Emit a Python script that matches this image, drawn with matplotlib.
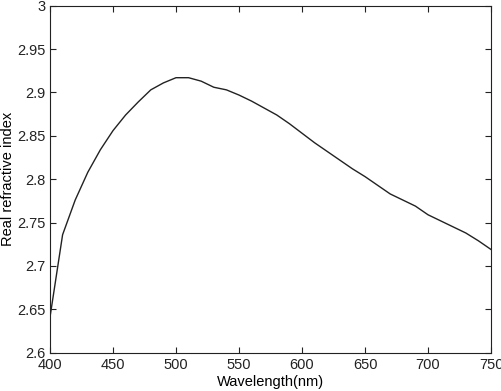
import matplotlib
matplotlib.use('Agg')
import matplotlib.pyplot as plt

# wavelength (nm) vs real refractive index
wavelength = [400, 410, 420, 430, 440, 450, 460, 470, 480, 490, 500, 510, 520,
              530, 540, 550, 560, 570, 580, 590, 600, 610, 620, 630, 640, 650,
              660, 670, 680, 690, 700, 710, 720, 730, 740, 750]
real_index = [2.641, 2.736, 2.776, 2.808, 2.834, 2.856, 2.874, 2.889, 2.903, 2.911,
              2.917, 2.917, 2.913, 2.906, 2.903, 2.897, 2.890, 2.882, 2.874, 2.864,
              2.853, 2.842, 2.832, 2.822, 2.812, 2.803, 2.793, 2.783, 2.776, 2.769,
              2.759, 2.752, 2.745, 2.738, 2.729, 2.719]

xticks = [400, 450, 500, 550, 600, 650, 700, 750]
yticks = [2.6, 2.65, 2.7, 2.75, 2.8, 2.85, 2.9, 2.95, 3]
ylabels = ['2.6', '2.65', '2.7', '2.75', '2.8', '2.85', '2.9', '2.95', '3']

plt.rcParams['font.family'] = ['Liberation Sans', 'DejaVu Sans']

fig = plt.figure(figsize=(5.02, 3.91), dpi=100)
ax = fig.add_axes([50 / 502, 1 - 352.7 / 391, 441 / 502, 347 / 391])

ax.plot(wavelength, real_index, color='#222222', linewidth=1.0)

ax.set_xlim(400, 750)
ax.set_ylim(2.6, 3.0)
ax.set_xticks(xticks)
ax.set_xticklabels([str(t) for t in xticks])
ax.set_yticks(yticks)
ax.set_yticklabels(ylabels)
ax.tick_params(direction='in', top=True, right=True, length=4, width=0.8,
               labelsize=10.5, colors='#222222')
ax.tick_params(axis='x', pad=4)
ax.tick_params(axis='y', pad=3)
for s in ax.spines.values():
    s.set_color('#222222')
    s.set_linewidth(0.8)

ax.set_xlabel('Wavelength(nm)', fontsize=10.5, labelpad=2)
ax.set_ylabel('Real refractive index', fontsize=10.5, labelpad=2)

fig.savefig('out.png', dpi=100)
